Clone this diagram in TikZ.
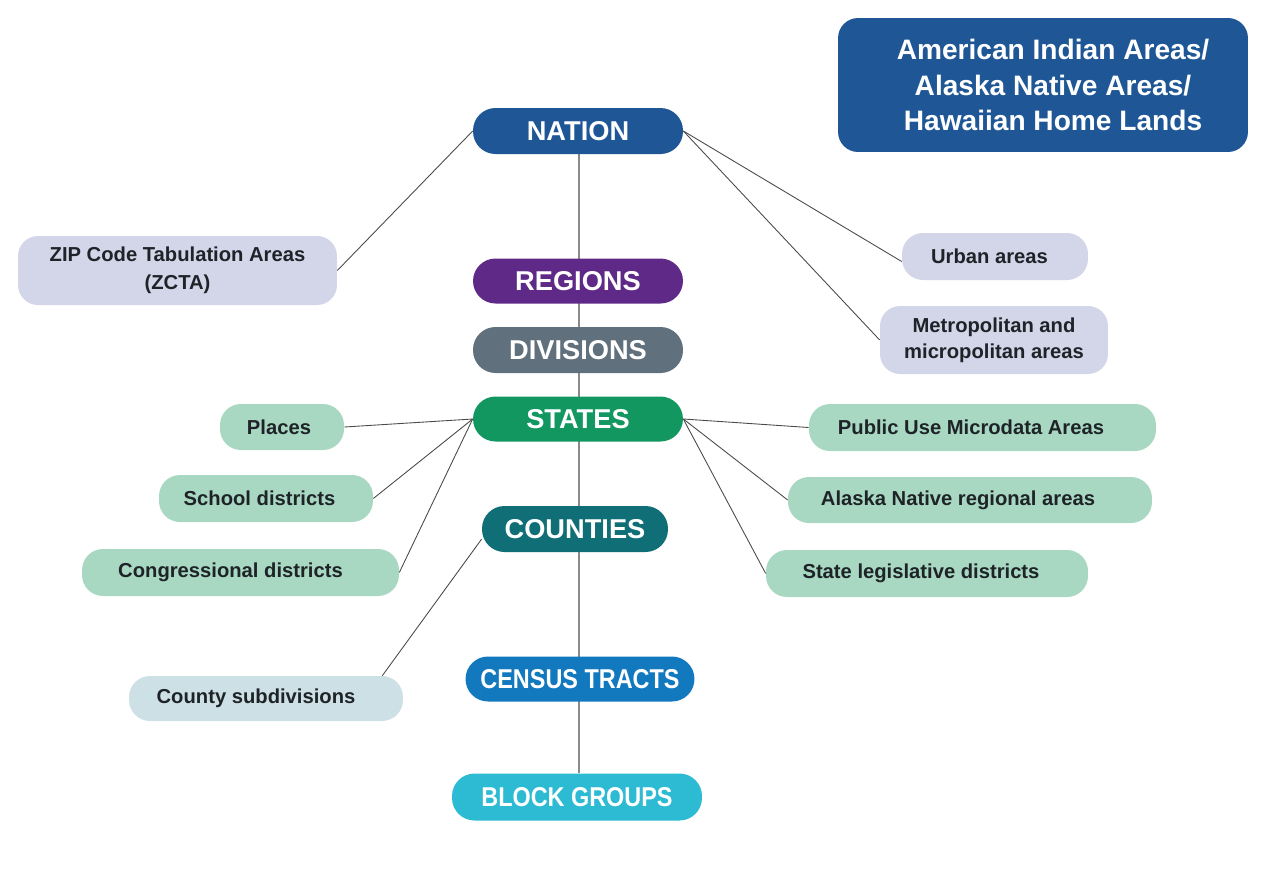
\documentclass[tikz,border=0pt]{standalone}
\usepackage{fontspec}
\setmainfont{Liberation Sans}
\newfontfamily\narrowfont[FakeStretch=0.86]{Liberation Sans}
\usetikzlibrary{backgrounds}

\definecolor{navy}{HTML}{1F5796}
\definecolor{purpleR}{HTML}{5E2987}
\definecolor{grayD}{HTML}{60707C}
\definecolor{greenS}{HTML}{139760}
\definecolor{tealC}{HTML}{0F6E76}
\definecolor{blueT}{HTML}{1379BF}
\definecolor{cyanB}{HTML}{2CBBD2}
\definecolor{lavender}{HTML}{D3D5E8}
\definecolor{mint}{HTML}{A8D8C2}
\definecolor{paleblue}{HTML}{CDE0E6}
\definecolor{ink}{HTML}{1E2328}
\definecolor{wire}{HTML}{4A4A4A}
\definecolor{spine}{HTML}{8A8A8A}

\begin{document}
\begin{tikzpicture}[
  x=0.02cm, y=-0.02cm,
  level/.style={rectangle, rounded corners=0.45cm, minimum height=0.92cm,
    inner sep=0pt, text=white, font=\fontsize{15.5}{18}\selectfont\bfseries},
  tag/.style={rectangle, rounded corners=0.42cm, minimum height=0.94cm,
    inner sep=0pt, text=ink, font=\fontsize{11.5}{14}\selectfont\bfseries},
  link/.style={draw=wire, line width=0.5pt},
]
\useasboundingbox (0,0) rectangle (1261,887);

% hierarchy spine
\node[level, fill=navy,     minimum width=4.2cm]  (nation)    at (578,131) {NATION};
\node[level, fill=purpleR,  minimum width=4.2cm, minimum height=0.9cm]  (regions)   at (578,281) {REGIONS};
\node[level, fill=grayD,    minimum width=4.2cm]  (divisions) at (578,350) {DIVISIONS};
\node[level, fill=greenS,   minimum width=4.2cm, minimum height=0.9cm]  (states)    at (578,419) {STATES};
\node[level, fill=tealC,    minimum width=3.72cm] (counties)  at (575,529) {COUNTIES};
\node[level, fill=blueT,    minimum width=4.58cm, minimum height=0.9cm,
      font=\fontsize{15.5}{18}\narrowfont\bfseries] (tracts) at (580,679) {CENSUS TRACTS};
\node[level, fill=cyanB,    minimum width=5.0cm, minimum height=0.94cm,
      font=\fontsize{15.5}{18}\narrowfont\bfseries] (blocks) at (577,797) {BLOCK GROUPS};

% tribal areas box
\node[rectangle, rounded corners=0.4cm, fill=navy, minimum width=8.2cm,
      minimum height=2.68cm, inner sep=0pt] (aian) at (1043,85) {};
\node[text=white, align=center, inner sep=0pt,
      font=\fontsize{16}{20.2}\selectfont\bfseries] (aiantext) at (1053,85)
  {American Indian Areas/\\Alaska Native Areas/\\Hawaiian Home Lands};

% nation-level geographies
\node[tag, fill=lavender, minimum width=6.38cm, minimum height=1.38cm,
      rounded corners=0.4cm, align=center,
      font=\fontsize{11.5}{16}\selectfont\bfseries] (zcta) at (177.5,270.5)
  {ZIP Code Tabulation Areas\\(ZCTA)};
\node[tag, fill=lavender, minimum width=3.72cm] (urban) at (995,256.5)
  {Urban areas\hspace*{0.22cm}};
\node[tag, fill=lavender, minimum width=4.56cm, minimum height=1.36cm,
      rounded corners=0.4cm, align=center,
      font=\fontsize{11.5}{15}\selectfont\bfseries] (metro) at (994,340)
  {Metropolitan and\\micropolitan areas};

% state-level geographies
\node[tag, fill=mint, minimum width=2.48cm, minimum height=0.92cm] (places) at (282,427)
  {Places\hspace*{0.12cm}};
\node[tag, fill=mint, minimum width=4.28cm] (school) at (266,498.5)
  {School districts\hspace*{0.26cm}};
\node[tag, fill=mint, minimum width=6.34cm] (congr) at (240.5,572.5)
  {Congressional districts\hspace*{0.4cm}};
\node[tag, fill=mint, minimum width=6.94cm] (puma) at (982.5,427.5)
  {Public Use Microdata Areas\hspace*{0.46cm}};
\node[tag, fill=mint, minimum width=7.28cm, minimum height=0.92cm] (alaska) at (970,500)
  {Alaska Native regional areas\hspace*{0.48cm}};
\node[tag, fill=mint, minimum width=6.44cm] (stateleg) at (927,573.5)
  {State legislative districts\hspace*{0.24cm}};

% county-level geographies
\node[tag, fill=paleblue, minimum width=5.48cm, minimum height=0.9cm] (countysub) at (266,698.5)
  {County subdivisions\hspace*{0.4cm}};

% white page and the vertical spine behind the level nodes
\begin{pgfonlayer}{background}
  \fill[white] (0,0) rectangle (1261,887);
  \draw[draw=spine, line width=0.8pt] ([xshift=0.02cm]nation.south) -- ([xshift=0.02cm]nation.south |- blocks.north);
\end{pgfonlayer}

% connectors
\draw[link] (nation.west) -- (zcta.east);
\draw[link] (nation.east) -- ([yshift=-0.1cm]urban.west);
\draw[link] (nation.east) -- (metro.west);
\draw[link] (states.west) -- (places.east);
\draw[link] (states.west) -- (school.east);
\draw[link] (states.west) -- (congr.east);
\draw[link] (states.east) -- (puma.west);
\draw[link] (states.east) -- (alaska.west);
\draw[link] (states.east) -- (stateleg.west);
\draw[link] ([yshift=-0.2cm]counties.west) -- ([xshift=-0.42cm]countysub.north east);
\end{tikzpicture}
\end{document}
